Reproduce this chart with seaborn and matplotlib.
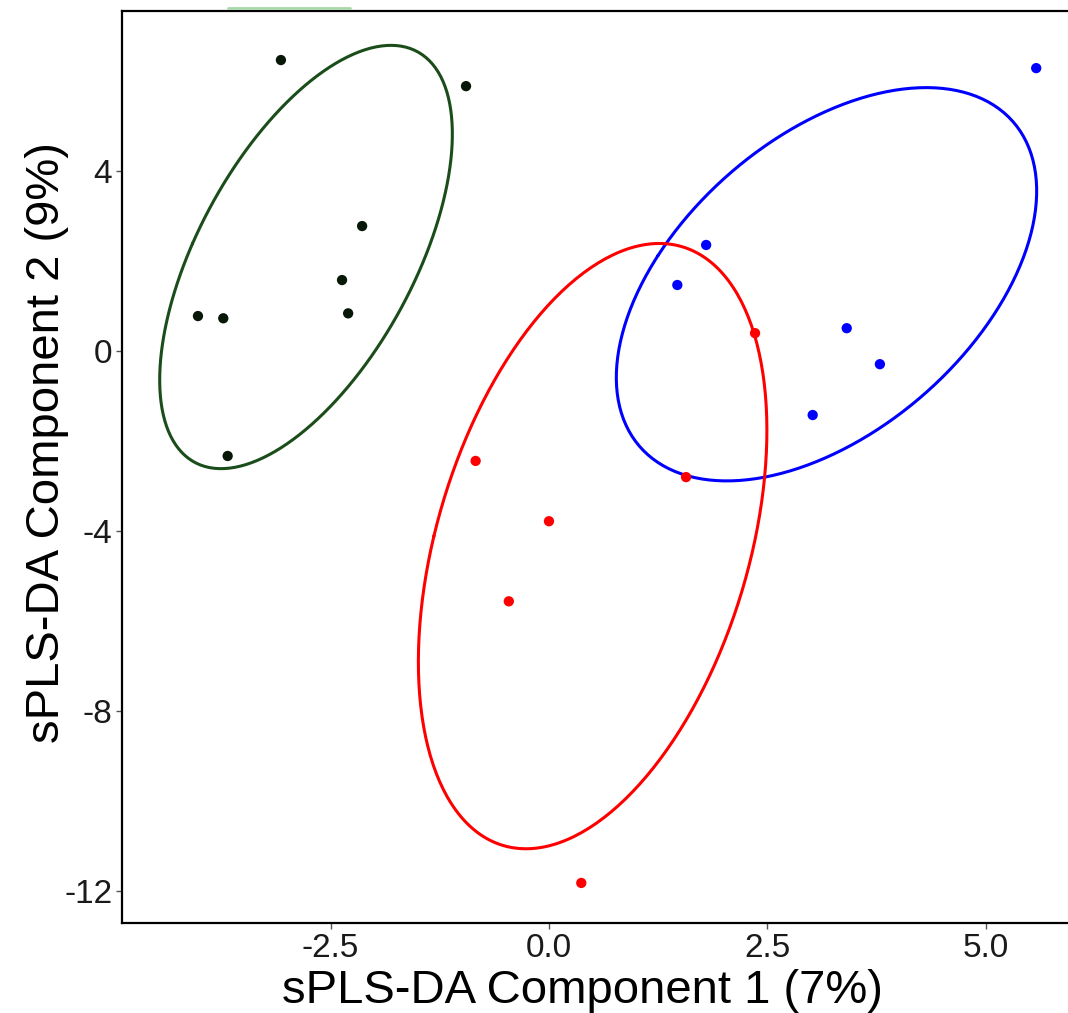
import numpy as np
import pandas as pd
import seaborn as sns
import matplotlib.pyplot as plt
from matplotlib.lines import Line2D

# scores, one array per group
green_x = [-3.07, -0.95, -2.14, -2.37, -2.30, -4.02, -3.73, -3.68]
green_y = [6.47, 5.89, 2.78, 1.58, 0.84, 0.78, 0.73, -2.33]
blue_x = [5.58, 1.80, 1.47, 3.41, 3.79, 3.02]
blue_y = [6.29, 2.36, 1.47, 0.51, -0.29, -1.42]
red_x = [2.36, -0.84, 1.57, 0.00, -0.46, 0.37]
red_y = [0.40, -2.44, -2.80, -3.78, -5.56, -11.82]

groups = ['A', 'B', 'C']
point_cols = {'A': '#081808', 'B': '#0000ff', 'C': '#ff0000'}
line_cols = {'A': '#1b4d1b', 'B': '#0000ff', 'C': '#ff0000'}

x_ticks = [-2.5, 0.0, 2.5, 5.0]
y_ticks = [4, 0, -4, -8, -12]

df = pd.DataFrame({
    'comp1': green_x + blue_x + red_x,
    'comp2': green_y + blue_y + red_y,
    'group': ['A'] * len(green_x) + ['B'] * len(blue_x) + ['C'] * len(red_x),
})

sns.set_style('white')
plt.rcParams['font.family'] = ['Liberation Sans', 'DejaVu Sans']

fig = plt.figure(figsize=(10.68, 10.13), dpi=100)
ax = fig.add_axes([122 / 1068, 1 - 923 / 1013, 950 / 1068, 912 / 1013])

sns.scatterplot(data=df, x='comp1', y='comp2', hue='group', palette=point_cols,
                s=55, edgecolor='none', legend=False, ax=ax, zorder=3)

# ellipse per group from mean and covariance
t = np.linspace(0, 2 * np.pi, 300)
scale = 1.62
for g in groups:
    sub = df[df['group'] == g][['comp1', 'comp2']].to_numpy()
    mu = sub.mean(axis=0)
    cov = np.cov(sub.T)
    vals, vecs = np.linalg.eigh(cov)
    circ = np.vstack([np.cos(t), np.sin(t)])
    pts = vecs @ (np.sqrt(vals)[:, None] * circ) * scale
    ax.plot(pts[0] + mu[0], pts[1] + mu[1], color=line_cols[g], lw=2.2, zorder=2)

ax.set_xlim(-4.89, 5.99)
ax.set_ylim(-12.71, 7.56)
ax.set_xticks(x_ticks)
ax.set_xticklabels(['-2.5', '0.0', '2.5', '5.0'])
ax.set_yticks(y_ticks)
ax.set_yticklabels([str(v) for v in y_ticks])
ax.tick_params(axis='both', labelsize=24, length=4, width=1, color='#555555',
               labelcolor='#1a1a1a', pad=3, bottom=True, left=True)

for side in ['left', 'bottom', 'top']:
    ax.spines[side].set_color('black')
    ax.spines[side].set_linewidth(1.6)
ax.spines['right'].set_visible(False)

ax.set_xlabel('sPLS-DA Component 1 (7%)', fontsize=34, color='black')
ax.set_ylabel('sPLS-DA Component 2 (9%)', fontsize=34, color='black')
ax.xaxis.label.set_va('baseline')
ax.xaxis.set_label_coords(0.485, -0.0877)
ax.yaxis.set_label_coords(-0.056, 0.527)

# small green strip above the frame
fig.add_artist(Line2D([228 / 1068, 350 / 1068], [1 - 8 / 1013] * 2,
                      transform=fig.transFigure, color='#a8d8a8', lw=2))

fig.savefig('out.png', dpi=100)
